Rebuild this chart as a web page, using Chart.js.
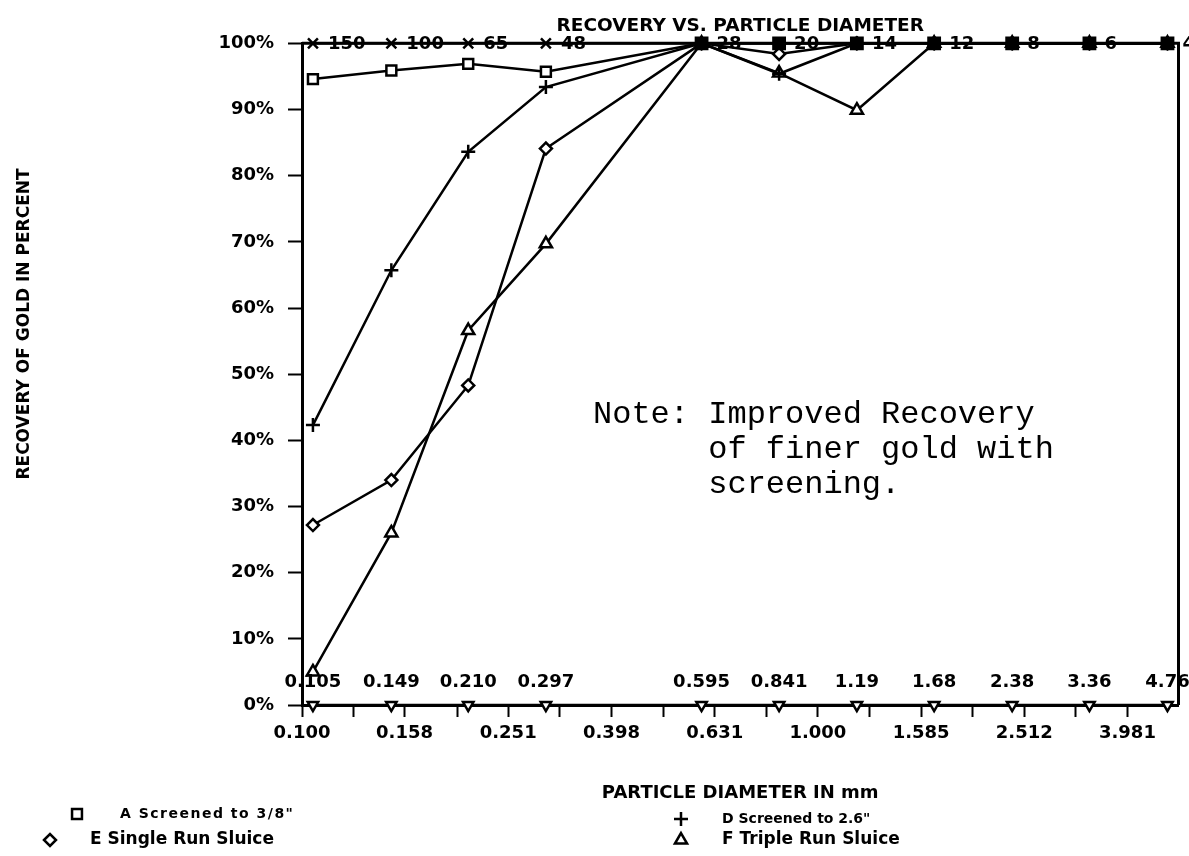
<!DOCTYPE html>
<html>
<head>
<meta charset="utf-8">
<title>Recovery vs. Particle Diameter</title>
<script src="https://cdn.jsdelivr.net/npm/chart.js@4.4.0/dist/chart.umd.min.js"></script>
<style>
  html, body { margin: 0; padding: 0; background: #fff; }
  canvas { display: block; }
</style>
</head>
<body>
<canvas id="recoveryChart" width="1189" height="856"></canvas>
<script>
// sieve openings (mm) and the matching Tyler mesh numbers
const sizes = [0.105, 0.149, 0.210, 0.297, 0.595, 0.841, 1.19, 1.68, 2.38, 3.36, 4.76];
const sizeLabels = ['0.105', '0.149', '0.210', '0.297', '0.595', '0.841', '1.19', '1.68', '2.38', '3.36', '4.76'];
const meshLabels = ['150', '100', '65', '48', '28', '20', '14', '12', '8', '6', '4'];

// recovery in percent
const screenedA = [94.6, 95.9, 96.9, 95.7, 100, 100, 100, 100, 100, 100, 100];
const screenedD = [42.3, 65.7, 83.6, 93.4, 100, 95.4, 100, 100, 100, 100, 100];
const singleRunE = [27.2, 34.0, 48.3, 84.1, 100, 98.4, 100, 100, 100, 100, 100];
const tripleRunF = [5.0, 26.0, 56.6, 69.7, 100, 95.5, 89.9, 100, 100, 100, 100];
const meshLine = [100, 100, 100, 100, 100, 100, 100, 100, 100, 100, 100];
const baseLine = [0, 0, 0, 0, 0, 0, 0, 0, 0, 0, 0];

// axis ticks
const xTickValues = [0.100, 0.126, 0.158, 0.200, 0.251, 0.316, 0.398, 0.501, 0.631, 0.794,
                     1.000, 1.259, 1.585, 1.995, 2.512, 3.162, 3.981];
const xTickLabels = ['0.100', '', '0.158', '', '0.251', '', '0.398', '', '0.631', '',
                     '1.000', '', '1.585', '', '2.512', '', '3.981'];
const yTickValues = [0, 10, 20, 30, 40, 50, 60, 70, 80, 90, 100];
const yTickLabels = ['0%', '10%', '20%', '30%', '40%', '50%', '60%', '70%', '80%', '90%', '100%'];

const legendItems = [
  { style: 'rect', radius: 7, text: 'A Screened to 3/8"', mx: 77, tx: 120, y: 814, size: 14, spacing: 1.5 },
  { style: 'rectRot', radius: 6, text: 'E Single Run Sluice', mx: 50, tx: 90, y: 840, size: 17, spacing: 0 },
  { style: 'cross', radius: 7, text: 'D Screened to 2.6"', mx: 681, tx: 722, y: 819, size: 14, spacing: 0 },
  { style: 'triangle', radius: 7, text: 'F Triple Run Sluice', mx: 681, tx: 722, y: 840, size: 17, spacing: 0 }
];

const noteLines = ['Note: Improved Recovery', '      of finer gold with', '      screening.'];

const plotFont = { family: '"DejaVu Sans", sans-serif', weight: 'bold', size: 18 };

function series(label, values, style, extra) {
  return Object.assign({
    label: label,
    data: sizes.map((s, i) => ({ x: s, y: values[i] })),
    borderColor: '#000',
    borderWidth: 2.5,
    backgroundColor: '#fff',
    pointStyle: style,
    pointRadius: 6,
    pointBorderWidth: 2.5,
    pointBorderColor: '#000',
    pointBackgroundColor: '#fff',
    tension: 0,
    clip: false
  }, extra || {});
}

function marker(ctx, style, radius, x, y) {
  ctx.save();
  ctx.strokeStyle = '#000';
  ctx.fillStyle = '#fff';
  ctx.lineWidth = 2.5;
  Chart.helpers.drawPoint(ctx, { pointStyle: style, radius: radius, rotation: 0, borderWidth: 2.5 }, x, y);
  ctx.restore();
}

// labels on the plot, the rotated y title, the key and the note
const paperMarks = {
  id: 'paperMarks',
  afterDraw(chart) {
    const { ctx, chartArea: a } = chart;
    const x = chart.scales.x, y = chart.scales.y;
    ctx.save();

    ctx.strokeStyle = '#000';
    ctx.lineWidth = 3;
    ctx.beginPath();
    ctx.moveTo(a.left, a.top);
    ctx.lineTo(a.right, a.top);
    ctx.lineTo(a.right, a.bottom);
    ctx.stroke();

    ctx.fillStyle = '#000';
    ctx.font = 'bold 18px "DejaVu Sans", sans-serif';
    ctx.textBaseline = 'middle';
    ctx.textAlign = 'left';
    sizes.forEach((s, i) => {
      ctx.fillText(meshLabels[i], x.getPixelForValue(s) + 15, y.getPixelForValue(100) + 1);
    });
    ctx.textAlign = 'center';
    sizes.forEach((s, i) => {
      ctx.fillText(sizeLabels[i], x.getPixelForValue(s), y.getPixelForValue(0) - 23);
    });

    ctx.save();
    ctx.translate(25, 324);
    ctx.rotate(-Math.PI / 2);
    ctx.font = 'bold 17px "DejaVu Sans", sans-serif';
    ctx.fillText('RECOVERY OF GOLD IN PERCENT', 0, 0);
    ctx.restore();

    legendItems.forEach(item => {
      marker(ctx, item.style, item.radius, item.mx, item.y);
      ctx.fillStyle = '#000';
      ctx.textAlign = 'left';
      ctx.letterSpacing = item.spacing + 'px';
      ctx.font = 'bold ' + item.size + 'px "DejaVu Sans", sans-serif';
      ctx.fillText(item.text, item.tx, item.y);
    });
    ctx.letterSpacing = '0px';

    ctx.font = '32px "Liberation Mono", monospace';
    ctx.textBaseline = 'alphabetic';
    noteLines.forEach((line, i) => ctx.fillText(line, 593, 423 + i * 35));

    ctx.restore();
  }
};

new Chart(document.getElementById('recoveryChart'), {
  type: 'line',
  data: {
    datasets: [
      series('Mesh', meshLine, ['crossRot', 'crossRot', 'crossRot', 'crossRot', 'rect', 'rect', 'rect', 'rect', 'rect', 'rect', 'rect'], {
        pointRadius: [7, 7, 7, 7, 8, 8, 8, 8, 8, 8, 8],
        pointBackgroundColor: ['#fff', '#fff', '#fff', '#fff', '#000', '#000', '#000', '#000', '#000', '#000', '#000']
      }),
      series('A Screened to 3/8"', screenedA, 'rect', { pointRadius: 7 }),
      series('D Screened to 2.6"', screenedD, 'cross', { pointRadius: 7 }),
      series('E Single Run Sluice', singleRunE, 'rectRot', { pointRadius: 6 }),
      series('F Triple Run Sluice', tripleRunF, 'triangle', { pointRadius: 7 }),
      series('Sieve', baseLine, 'triangle', { pointRadius: 6, pointRotation: 180 })
    ]
  },
  options: {
    responsive: false,
    animation: false,
    layout: { padding: { left: 0, right: 9, top: 0, bottom: 0 } },
    plugins: {
      legend: { display: false },
      tooltip: { enabled: false },
      title: {
        display: true,
        fullSize: false,
        text: 'RECOVERY VS. PARTICLE DIAMETER',
        color: '#000',
        font: { family: '"DejaVu Sans", sans-serif', weight: 'bold', size: 18.5, lineHeight: 1.1 },
        padding: { top: 16, bottom: 7 }
      }
    },
    scales: {
      x: {
        type: 'logarithmic',
        min: 0.1,
        max: 5,
        afterBuildTicks: s => { s.ticks = xTickValues.map(v => ({ value: v })); },
        afterFit: s => { s.height = 151; },
        ticks: {
          autoSkip: false,
          maxRotation: 0,
          padding: 6,
          color: '#000',
          font: plotFont,
          callback: (v, i) => xTickLabels[i]
        },
        grid: { drawOnChartArea: false, tickLength: 12, tickWidth: 2, tickColor: '#000' },
        border: { display: true, color: '#000', width: 3 },
        title: {
          display: true,
          text: 'PARTICLE DIAMETER IN mm',
          color: '#000',
          font: { family: '"DejaVu Sans", sans-serif', weight: 'bold', size: 18, lineHeight: 1.2 },
          padding: { top: 0, bottom: 52 }
        }
      },
      y: {
        min: 0,
        max: 100,
        afterBuildTicks: s => { s.ticks = yTickValues.map(v => ({ value: v })); },
        afterFit: s => { s.width = 302; },
        ticks: {
          padding: 14,
          color: '#000',
          font: plotFont,
          callback: (v, i) => yTickLabels[i]
        },
        grid: { drawOnChartArea: false, tickLength: 14, tickWidth: 2, tickColor: '#000' },
        border: { display: true, color: '#000', width: 3 }
      }
    }
  },
  plugins: [paperMarks]
});
</script>
</body>
</html>
